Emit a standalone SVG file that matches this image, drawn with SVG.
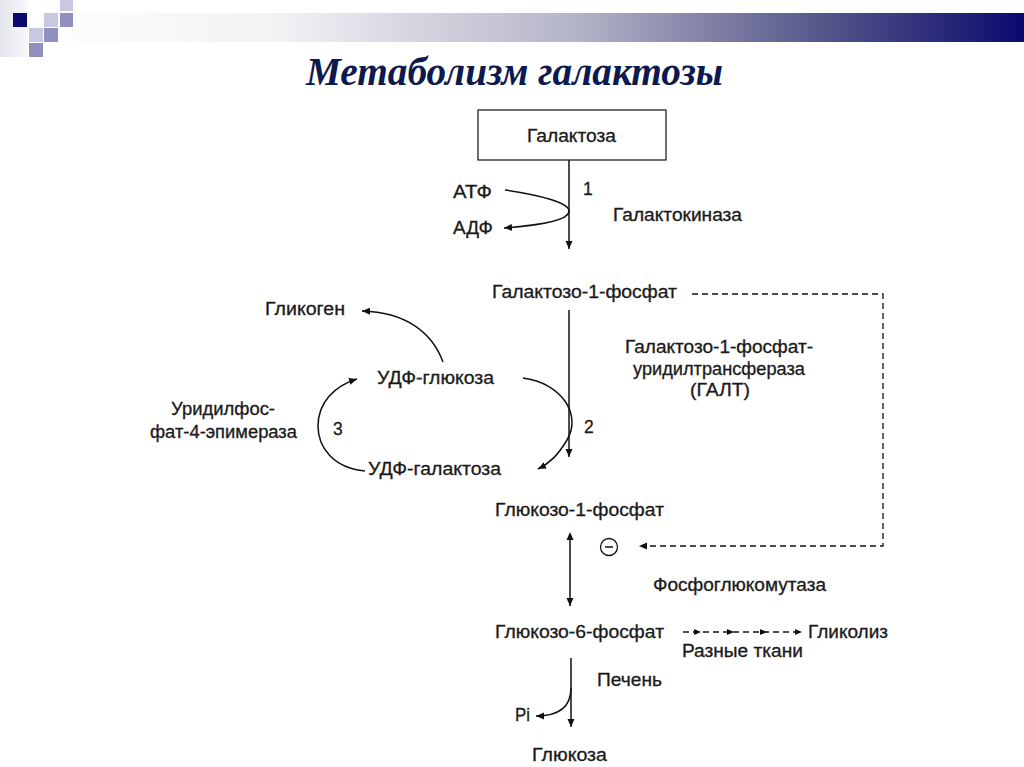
<svg xmlns="http://www.w3.org/2000/svg" width="1024" height="767" viewBox="0 0 1024 767">
<defs>
<linearGradient id="bar" x1="0" y1="0" x2="1" y2="0">
<stop offset="0" stop-color="#ffffff"/>
<stop offset="0.25" stop-color="#f2f2f5"/>
<stop offset="0.55" stop-color="#b4b4c8"/>
<stop offset="0.8" stop-color="#55558a"/>
<stop offset="1" stop-color="#0a0a6e"/>
</linearGradient>
<linearGradient id="corner" x1="0" y1="0" x2="1" y2="0">
<stop offset="0" stop-color="#e4e4ee"/>
<stop offset="1" stop-color="#f8f8fb"/>
</linearGradient>
<marker id="ah" markerUnits="userSpaceOnUse" markerWidth="10" markerHeight="8" refX="8" refY="4" orient="auto">
<path d="M0,0.5 L8,4 L0,7.5 Z" fill="#111"/>
</marker>
<marker id="ahs" markerUnits="userSpaceOnUse" markerWidth="10" markerHeight="8" refX="4" refY="4" orient="auto-start-reverse">
<path d="M0,0.5 L8,4 L0,7.5 Z" fill="#111"/>
</marker>
</defs>
<style>
.t{font-family:"Liberation Sans",Arial,sans-serif;font-size:17.5px;fill:#1a1a1a;stroke:#1a1a1a;stroke-width:0.3}
.ln{fill:none;stroke:#111;stroke-width:1.5}
.ds{fill:none;stroke:#111;stroke-width:1.3;stroke-dasharray:6,4}
.title{font-family:"Liberation Serif","Times New Roman",serif;font-style:italic;font-weight:bold;font-size:40px;fill:#0d1a50}
</style>
<g id="decor">
<rect x="0" y="0" width="28" height="57" fill="url(#corner)"/>
<rect x="28" y="13" width="996" height="29" fill="url(#bar)"/>
<rect x="13" y="13" width="14" height="14" fill="#0a0a6e"/>
<rect x="60" y="0" width="13" height="11" fill="#c8c8e0"/>
<rect x="60" y="13" width="13" height="14" fill="#9090c0"/>
<rect x="44" y="13" width="14" height="14" fill="#c8c8e0"/>
<rect x="44" y="28" width="14" height="14" fill="#9090c0"/>
<rect x="29" y="28" width="14" height="14" fill="#c8c8e0"/>
<rect x="29" y="43" width="14" height="14" fill="#9090c0"/>
</g>
<text class="title" x="306" y="85" textLength="417" lengthAdjust="spacingAndGlyphs">Метаболизм галактозы</text>
<g id="connectors">
<line class="ln" x1="569" y1="160" x2="569" y2="249" marker-end="url(#ah)"/>
<path class="ln" d="M505,190 C540,195 571,203 569,212 C567,222 530,226 504,228" marker-end="url(#ah)"/>
<line class="ln" x1="569" y1="310" x2="569" y2="457" marker-end="url(#ah)"/>
<path class="ln" d="M443,362 C432,332 405,312 362,311" marker-end="url(#ah)"/>
<path class="ln" d="M523,378 C562,383 582,415 567,440 C558,455 550,463 538,469" marker-end="url(#ah)"/>
<path class="ln" d="M365,471 C333,468 318,447 318,426 C318,403 334,386 357,379" marker-end="url(#ah)"/>
<line class="ln" x1="570" y1="536" x2="570" y2="606" marker-start="url(#ahs)" marker-end="url(#ah)"/>
<path class="ds" d="M692,294 H883 V546 H643"/>
<path d="M639,546 L647,542.5 L647,549.5 Z" fill="#111"/>
<line class="ds" x1="683" y1="632" x2="798" y2="632" stroke-dasharray="5,6"/>
<path d="M701,632 l-7,-3 v6 z M734,632 l-7,-3 v6 z M767,632 l-7,-3 v6 z M802,632 l-7,-3 v6 z" fill="#111"/>
<line class="ln" x1="571" y1="658" x2="571" y2="727" marker-end="url(#ah)"/>
<path class="ln" d="M571,688 C571,708 558,716 536,716" marker-end="url(#ah)"/>
</g>
<g id="n-galaktoza">
<rect x="478" y="110" width="188" height="50" fill="#fff" stroke="#222" stroke-width="1.3"/>
<text class="t" x="527" y="142" textLength="89" lengthAdjust="spacingAndGlyphs">Галактоза</text>
</g>
<g id="n-atf"><text class="t" x="453" y="198" textLength="39" lengthAdjust="spacingAndGlyphs">АТФ</text></g>
<g id="n-adf"><text class="t" x="453" y="234" textLength="40" lengthAdjust="spacingAndGlyphs">АДФ</text></g>
<g id="n-1"><text class="t" x="583" y="195">1</text></g>
<g id="n-galactokinase"><text class="t" x="613" y="221" textLength="129" lengthAdjust="spacingAndGlyphs">Галактокиназа</text></g>
<g id="n-gal1p"><text class="t" x="492" y="298" textLength="185" lengthAdjust="spacingAndGlyphs">Галактозо-1-фосфат</text></g>
<g id="n-galt">
<text class="t" x="625" y="353" textLength="188" lengthAdjust="spacingAndGlyphs">Галактозо-1-фосфат-</text>
<text class="t" x="633" y="375" textLength="172" lengthAdjust="spacingAndGlyphs">уридилтрансфераза</text>
<text class="t" x="690" y="396" textLength="60" lengthAdjust="spacingAndGlyphs">(ГАЛТ)</text>
</g>
<g id="n-glycogen"><text class="t" x="265" y="315" textLength="80" lengthAdjust="spacingAndGlyphs">Гликоген</text></g>
<g id="n-udpglc"><text class="t" x="377" y="384" textLength="117" lengthAdjust="spacingAndGlyphs">УДФ-глюкоза</text></g>
<g id="n-2"><text class="t" x="584" y="433">2</text></g>
<g id="n-3"><text class="t" x="333" y="435">3</text></g>
<g id="n-epimerase">
<text class="t" x="171" y="415" textLength="104" lengthAdjust="spacingAndGlyphs">Уридилфос-</text>
<text class="t" x="150" y="438" textLength="147" lengthAdjust="spacingAndGlyphs">фат-4-эпимераза</text>
</g>
<g id="n-udpgal"><text class="t" x="368" y="475" textLength="133" lengthAdjust="spacingAndGlyphs">УДФ-галактоза</text></g>
<g id="n-glc1p"><text class="t" x="495" y="516" textLength="169" lengthAdjust="spacingAndGlyphs">Глюкозо-1-фосфат</text></g>
<g id="n-inhib">
<circle cx="609" cy="547" r="8.5" fill="none" stroke="#111" stroke-width="1.3"/>
<line x1="605" y1="547" x2="613" y2="547" stroke="#111" stroke-width="1.5"/>
</g>
<g id="n-pgm"><text class="t" x="653" y="591" textLength="173" lengthAdjust="spacingAndGlyphs">Фосфоглюкомутаза</text></g>
<g id="n-glc6p"><text class="t" x="495" y="638" textLength="169" lengthAdjust="spacingAndGlyphs">Глюкозо-6-фосфат</text></g>
<g id="n-glycolysis"><text class="t" x="808" y="638" textLength="80" lengthAdjust="spacingAndGlyphs">Гликолиз</text></g>
<g id="n-tissues"><text class="t" x="682" y="657" textLength="121" lengthAdjust="spacingAndGlyphs">Разные ткани</text></g>
<g id="n-liver"><text class="t" x="597" y="686" textLength="65" lengthAdjust="spacingAndGlyphs">Печень</text></g>
<g id="n-pi"><text class="t" x="515" y="721" textLength="15" lengthAdjust="spacingAndGlyphs">Pi</text></g>
<g id="n-glucose"><text class="t" x="532" y="761" textLength="75" lengthAdjust="spacingAndGlyphs">Глюкоза</text></g>
</svg>
